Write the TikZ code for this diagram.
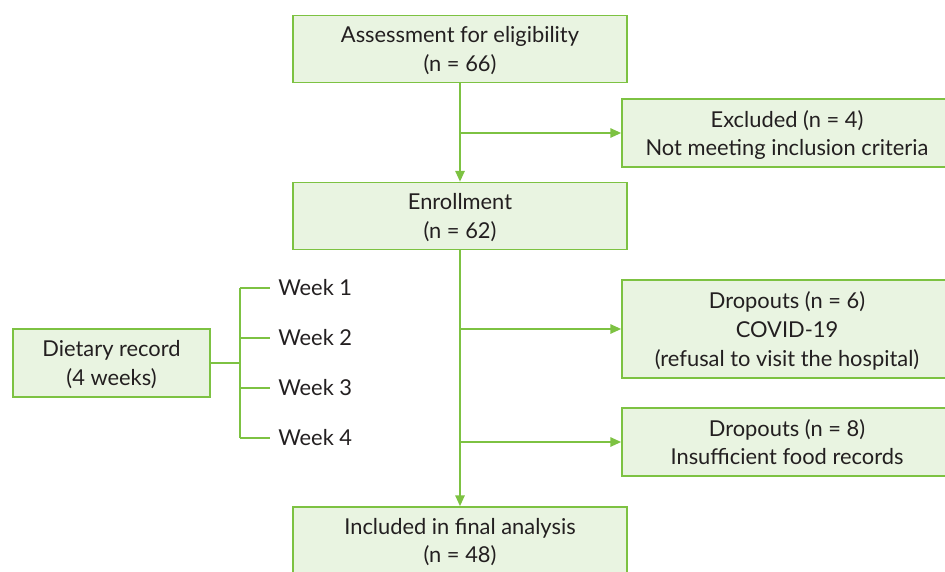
\documentclass[tikz,border=0pt]{standalone}
\usepackage{fontspec}
\setmainfont{Lato}
\usetikzlibrary{arrows.meta}

\definecolor{boxline}{RGB}{125,194,66}
\definecolor{boxfill}{RGB}{233,244,225}
\definecolor{txt}{RGB}{35,31,32}

\begin{document}
\begin{tikzpicture}[
  x=0.75pt, y=-0.75pt,
  font=\fontsize{16.4}{21.4}\selectfont, text=txt,
  box/.style={draw=boxline, fill=boxfill, line width=1.3pt, align=center,
    inner sep=0pt, text depth=-0.6pt},
  mainbox/.style={box, minimum width=334*0.75pt, minimum height=67*0.75pt},
  sidebox/.style={box, minimum width=330*0.75pt, minimum height=68*0.75pt},
  conn/.style={draw=boxline, line width=1.1pt},
  arr/.style={conn, -{Triangle[length=8pt, width=7pt]}}
]
\clip (0,0) rectangle (945,571);
\useasboundingbox (0,0) rectangle (945,571);

% main column
\node[mainbox] (assess) at (460,49)    {Assessment for eligibility\\(n = 66)};
\node[mainbox] (enroll) at (460,216)   {Enrollment\\(n = 62)};
\node[mainbox] (final)  at (460,540.5) {Included in final analysis\\(n = 48)};

% exclusions to the right
\node[sidebox] (excl)  at (787,133) {Excluded (n = 4)\\Not meeting inclusion criteria};
\node[sidebox, minimum height=98*0.75pt] (drop1) at (787,329) {Dropouts (n = 6)\\COVID-19\\(refusal to visit the hospital)};
\node[sidebox] (drop2) at (787,442) {Dropouts (n = 8)\\Insufficient food records};

\draw[arr] (assess.south) -- (enroll.north);
\draw[arr] (enroll.south) -- (final.north);
\draw[arr] (assess.south |- excl.west) -- (excl.west);
\draw[arr] (enroll.south |- drop1.west) -- (drop1.west);
\draw[arr] (enroll.south |- drop2.west) -- (drop2.west);

% dietary record bracket
\node[box, minimum width=197*0.75pt, minimum height=68*0.75pt] (diet) at (111.5,363) {Dietary record\\(4 weeks)};
\coordinate (fork) at (240,363);
\foreach \i/\y in {1/288,2/338,3/388,4/438} {
  \node[anchor=west, inner sep=0pt] (week\i) at (278,\y) {Week \i};
  \draw[conn] (fork |- week\i.west) -- ++(30,0);
}
\draw[conn] (diet.east) -- (fork);
\draw[conn] (fork |- week1.west) -- (fork |- week4.west);
\end{tikzpicture}
\end{document}
